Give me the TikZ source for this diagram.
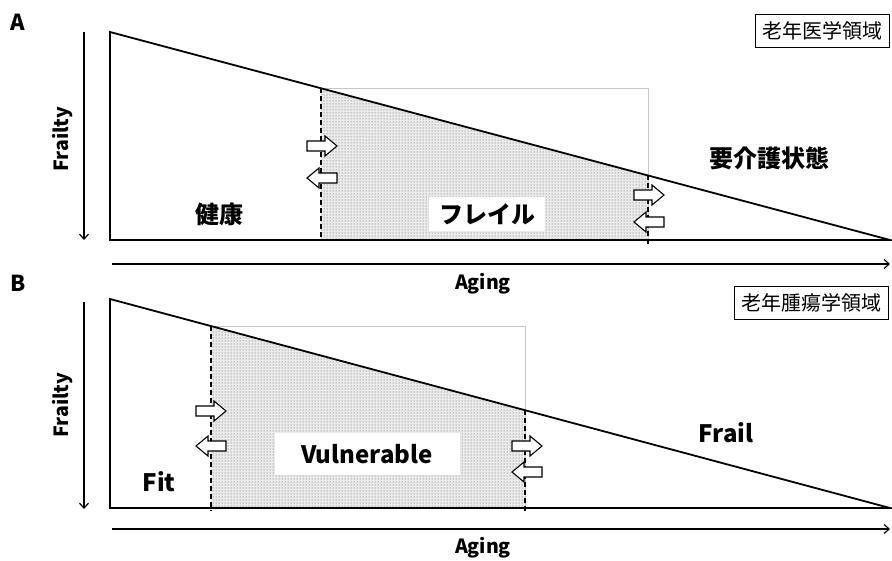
\documentclass[tikz,border=0pt]{standalone}
\usepackage{fontspec}
\setmainfont{Noto Sans CJK JP}
\usetikzlibrary{patterns,arrows.meta}
\begin{document}
\begin{tikzpicture}[x=1pt,y=-1pt,
  lab/.style={font=\bfseries\fontsize{24}{28}\selectfont, inner sep=1pt},
  axl/.style={font=\bfseries\fontsize{19.5}{22}\selectfont, inner sep=0pt},
  tagbox/.style={draw, line width=0.9pt, font=\fontsize{20}{24}\selectfont, inner xsep=7pt, minimum height=33pt},
  mainline/.style={line width=1.8pt},
  axis/.style={line width=1.2pt, -{Straight Barb[length=5pt,width=9pt]}},
  divider/.style={dashed, dash pattern=on 5pt off 3pt, line width=1.1pt},
  frame/.style={draw=gray!45, line width=0.8pt},
  stip/.style={pattern=dots, pattern color=black!65},
  blk/.style={draw, fill=white, line width=1.1pt},
  rblk/.pic={\draw[blk] (-15,-5) -- (3,-5) -- (3,-10) -- (15,0) -- (3,10) -- (3,5) -- (-15,5) -- cycle;},
  lblk/.pic={\draw[blk] (15,-5) -- (-3,-5) -- (-3,-10) -- (-15,0) -- (-3,10) -- (-3,5) -- (15,5) -- cycle;}
]
\useasboundingbox (0,0) rectangle (892,560);

% ---------------- Panel A ----------------
\node[font=\bfseries\fontsize{22}{26}\selectfont] (labA) at (18,22) {A};
\coordinate (aTL) at (110,32);
\coordinate (aBL) at (110,240);
\coordinate (aBR) at (890,240);
\coordinate (aD1t) at (321,88.27);
\coordinate (aD1b) at (321,240);
\coordinate (aD2t) at (648,175.47);
\coordinate (aD2b) at (648,245);
\draw[frame] (321,88.27) rectangle (648,240);
\fill[gray!16] (aD1t) -- (aD2t) -- (648,240) -- (aD1b) -- cycle;
\fill[stip] (aD1t) -- (aD2t) -- (648,240) -- (aD1b) -- cycle;
\draw[divider] (aD1t) -- (aD1b);
\draw[divider] (aD2t) -- (aD2b);
\draw[mainline] (aBL) -- (aTL) -- (aBR) -- cycle;
\coordinate (aFt) at (84,32);
\coordinate (aFb) at (84,240);
\draw[axis] (aFt) -- (aFb);
\node[axl, rotate=90] (aFrail) at (63,139) {Frailty};
\coordinate (aAl) at (112,264);
\coordinate (aAr) at (890,264);
\draw[axis] (aAl) -- (aAr);
\node[axl] (aAging) at (483,284) {Aging};
\node[lab] (kenko) at (219,214) {健康};
\node[lab, fill=white, inner xsep=10pt, inner ysep=6pt] (frailA) at (487,214) {フレイル};
\node[lab] (yokaigo) at (769,158) {要介護状態};
\node[tagbox, anchor=west] (tagA) at (755,31) {老年医学領域};
\pic at (322,146) {rblk};
\pic at (322,178) {lblk};
\pic at (649,195) {rblk};
\pic at (649,222) {lblk};

% ---------------- Panel B ----------------
\node[font=\bfseries\fontsize{22}{26}\selectfont] (labB) at (18,283) {B};
\coordinate (bTL) at (110,299);
\coordinate (bBL) at (110,508);
\coordinate (bBR) at (890,508);
\coordinate (bD1t) at (211,326.06);
\coordinate (bD1b) at (211,511);
\coordinate (bD2t) at (525,410.2);
\coordinate (bD2b) at (525,511);
\draw[frame] (211,326.06) rectangle (525,508);
\fill[gray!16] (bD1t) -- (bD2t) -- (525,508) -- (211,508) -- cycle;
\fill[stip] (bD1t) -- (bD2t) -- (525,508) -- (211,508) -- cycle;
\draw[divider] (bD1t) -- (bD1b);
\draw[divider] (bD2t) -- (bD2b);
\draw[mainline] (bBL) -- (bTL) -- (bBR) -- cycle;
\coordinate (bFt) at (84,302);
\coordinate (bFb) at (84,509);
\draw[axis] (bFt) -- (bFb);
\node[axl, rotate=90] (bFrail) at (63,405) {Frailty};
\coordinate (bAl) at (112,529);
\coordinate (bAr) at (890,529);
\draw[axis] (bAl) -- (bAr);
\node[axl] (bAging) at (483,548) {Aging};
\node[lab] (fit) at (159,482) {Fit};
\node[lab, fill=white, minimum width=185pt, minimum height=42pt] (vuln) at (367,454) {Vulnerable};
\node[lab] (frail) at (726,433) {Frail};
\node[tagbox, anchor=west] (tagB) at (734,303) {老年腫瘍学領域};
\pic at (211,411) {rblk};
\pic at (211,446) {lblk};
\pic at (527,446) {rblk};
\pic at (527,472) {lblk};
\end{tikzpicture}
\end{document}
